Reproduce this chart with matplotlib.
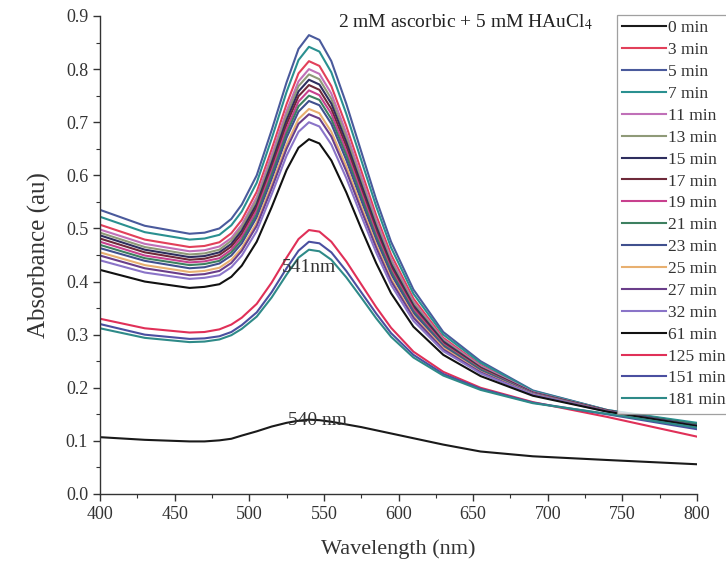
#!/usr/bin/env python3
"""
UV-Vis absorbance spectra of gold nanoparticle growth
(2 mM ascorbic acid + 5 mM HAuCl4) recorded at different reaction times.
"""
import matplotlib
matplotlib.use("Agg")
import matplotlib.pyplot as plt
from matplotlib.ticker import MultipleLocator

# wavelength grid (nm) shared by all spectra
wavelength = [400, 430, 460, 470, 480, 488, 495, 505, 515, 525, 533, 540, 547, 555,
              565, 575, 585, 595, 610, 630, 655, 690, 740, 800]

times = ["0 min", "3 min", "5 min", "7 min", "11 min", "13 min", "15 min",
         "17 min", "19 min", "21 min", "23 min", "25 min", "27 min", "32 min",
         "61 min", "125 min", "151 min", "181 min"]

abs_0 = [0.107, 0.102, 0.099, 0.099, 0.101, 0.104, 0.110, 0.118, 0.127, 0.134, 0.138, 0.140,
         0.139, 0.136, 0.131, 0.126, 0.120, 0.114, 0.105, 0.093, 0.080, 0.071, 0.064, 0.056]
abs_3 = [0.507, 0.479, 0.465, 0.467, 0.474, 0.491, 0.516, 0.569, 0.649, 0.734, 0.792, 0.815,
         0.806, 0.768, 0.693, 0.609, 0.525, 0.451, 0.368, 0.294, 0.243, 0.193, 0.157, 0.124]
abs_5 = [0.535, 0.505, 0.490, 0.492, 0.500, 0.518, 0.545, 0.600, 0.685, 0.775, 0.838, 0.864,
         0.855, 0.815, 0.735, 0.645, 0.555, 0.475, 0.385, 0.305, 0.250, 0.195, 0.158, 0.132]
abs_7 = [0.522, 0.493, 0.479, 0.481, 0.488, 0.506, 0.532, 0.586, 0.669, 0.757, 0.817, 0.842,
         0.833, 0.794, 0.716, 0.629, 0.542, 0.464, 0.377, 0.300, 0.247, 0.194, 0.158, 0.134]
abs_11 = [0.498, 0.471, 0.457, 0.459, 0.466, 0.482, 0.507, 0.559, 0.638, 0.721, 0.777, 0.800,
          0.791, 0.754, 0.680, 0.598, 0.516, 0.443, 0.362, 0.291, 0.241, 0.192, 0.157, 0.128]
abs_13 = [0.492, 0.465, 0.451, 0.453, 0.460, 0.477, 0.502, 0.553, 0.630, 0.713, 0.768, 0.790,
          0.781, 0.744, 0.672, 0.590, 0.510, 0.438, 0.359, 0.289, 0.239, 0.191, 0.157, 0.127]
abs_15 = [0.487, 0.460, 0.446, 0.448, 0.455, 0.471, 0.496, 0.546, 0.623, 0.704, 0.758, 0.780,
          0.771, 0.735, 0.663, 0.583, 0.504, 0.433, 0.355, 0.287, 0.238, 0.191, 0.157, 0.130]
abs_17 = [0.481, 0.455, 0.441, 0.443, 0.450, 0.466, 0.490, 0.540, 0.615, 0.696, 0.749, 0.770,
          0.761, 0.725, 0.655, 0.575, 0.497, 0.428, 0.351, 0.284, 0.237, 0.190, 0.157, 0.126]
abs_19 = [0.475, 0.449, 0.436, 0.438, 0.444, 0.460, 0.484, 0.534, 0.608, 0.687, 0.739, 0.760,
          0.751, 0.716, 0.646, 0.568, 0.491, 0.423, 0.348, 0.282, 0.235, 0.190, 0.156, 0.124]
abs_21 = [0.469, 0.444, 0.431, 0.433, 0.439, 0.455, 0.478, 0.527, 0.601, 0.679, 0.730, 0.750,
          0.742, 0.706, 0.638, 0.561, 0.485, 0.419, 0.344, 0.280, 0.234, 0.189, 0.156, 0.131]
abs_23 = [0.463, 0.439, 0.425, 0.427, 0.434, 0.449, 0.472, 0.521, 0.593, 0.671, 0.720, 0.740,
          0.732, 0.697, 0.629, 0.553, 0.479, 0.414, 0.341, 0.278, 0.232, 0.189, 0.156, 0.129]
abs_25 = [0.455, 0.431, 0.418, 0.420, 0.426, 0.441, 0.463, 0.511, 0.582, 0.658, 0.706, 0.725,
          0.717, 0.682, 0.617, 0.542, 0.470, 0.406, 0.335, 0.275, 0.230, 0.188, 0.156, 0.125]
abs_27 = [0.449, 0.425, 0.412, 0.414, 0.420, 0.435, 0.458, 0.505, 0.575, 0.650, 0.697, 0.715,
          0.707, 0.673, 0.608, 0.535, 0.464, 0.401, 0.332, 0.272, 0.229, 0.187, 0.156, 0.128]
abs_32 = [0.440, 0.417, 0.405, 0.407, 0.412, 0.427, 0.449, 0.495, 0.564, 0.637, 0.682, 0.700,
          0.692, 0.658, 0.595, 0.524, 0.455, 0.394, 0.326, 0.269, 0.227, 0.187, 0.155, 0.127]
abs_61 = [0.422, 0.400, 0.388, 0.390, 0.395, 0.409, 0.430, 0.475, 0.540, 0.610, 0.652, 0.668,
          0.660, 0.628, 0.568, 0.500, 0.435, 0.378, 0.315, 0.262, 0.222, 0.185, 0.155, 0.128]
abs_125 = [0.330, 0.312, 0.304, 0.305, 0.310, 0.319, 0.332, 0.358, 0.398, 0.445, 0.480, 0.497,
           0.494, 0.475, 0.438, 0.395, 0.352, 0.313, 0.268, 0.230, 0.200, 0.173, 0.145, 0.108]
abs_151 = [0.320, 0.300, 0.292, 0.293, 0.297, 0.305, 0.318, 0.342, 0.380, 0.425, 0.458, 0.475,
           0.472, 0.455, 0.420, 0.380, 0.340, 0.303, 0.262, 0.226, 0.198, 0.172, 0.150, 0.122]
abs_181 = [0.312, 0.294, 0.286, 0.287, 0.291, 0.299, 0.311, 0.334, 0.370, 0.413, 0.445, 0.460,
           0.457, 0.441, 0.408, 0.370, 0.331, 0.296, 0.257, 0.223, 0.196, 0.171, 0.151, 0.125]

spectra = [abs_0, abs_3, abs_5, abs_7, abs_11, abs_13, abs_15, abs_17, abs_19,
           abs_21, abs_23, abs_25, abs_27, abs_32, abs_61, abs_125, abs_151, abs_181]

colors = ["#1a1a1a", "#e2405a", "#4a5a9c", "#2a9090", "#c070b8", "#8f9a78",
          "#2e2e5e", "#6e2a3a", "#c8408e", "#3d8060", "#40508e", "#e8b070",
          "#6a3e8a", "#8a74c8", "#111111", "#e03058", "#4a4fa0", "#2e8a88"]

TEXT_COLOR = "#333333"


def main():
    plt.rcParams["font.family"] = ["Liberation Serif", "DejaVu Serif"]
    plt.rcParams["mathtext.fontset"] = "stix"

    fig = plt.figure(figsize=(7.26, 5.70), dpi=100)
    ax = fig.add_axes([100 / 726, 1 - 494 / 570, 597 / 726, 478 / 570])

    for label, vals, c in zip(times, spectra, colors):
        ax.plot(wavelength, vals, color=c, linewidth=1.5, label=label,
                solid_joinstyle="round")

    ax.set_xlim(400, 800)
    ax.set_ylim(0, 0.9)
    ax.xaxis.set_major_locator(MultipleLocator(50))
    ax.xaxis.set_minor_locator(MultipleLocator(25))
    ax.yaxis.set_major_locator(MultipleLocator(0.1))
    ax.yaxis.set_minor_locator(MultipleLocator(0.05))
    ax.yaxis.set_major_formatter(plt.FuncFormatter(lambda v, p: f"{v:.1f}"))

    for side in ("top", "right"):
        ax.spines[side].set_visible(False)
    for side in ("left", "bottom"):
        ax.spines[side].set_color(TEXT_COLOR)
        ax.spines[side].set_linewidth(1.0)
    ax.tick_params(which="major", direction="out", length=5, width=1.0,
                   labelsize=13, colors=TEXT_COLOR, labelcolor=TEXT_COLOR)
    ax.tick_params(which="minor", direction="out", length=3, width=0.8, colors=TEXT_COLOR)

    ax.set_xlabel("Wavelength (nm)", fontsize=16, color=TEXT_COLOR, labelpad=12)
    ax.set_ylabel("Absorbance (au)", fontsize=18, color=TEXT_COLOR, labelpad=11)

    ax.text(526, 0.13, "540 nm", fontsize=14, color=TEXT_COLOR, va="baseline")
    ax.text(522, 0.418, "541nm", fontsize=14, color=TEXT_COLOR, va="baseline")
    fig.text(338 / 726, 1 - 27 / 570, "2 mM ascorbic + 5 mM HAuCl$_4$",
             fontsize=14, color="#222222", va="baseline")

    leg = ax.legend(loc="upper left", bbox_to_anchor=(617 / 726, 1 - 15 / 570),
                    bbox_transform=fig.transFigure, fontsize=12.5, frameon=True,
                    fancybox=False, borderpad=0.3, labelspacing=0.33,
                    handlelength=2.5, handletextpad=0.15, borderaxespad=0)
    leg.get_frame().set_edgecolor("#888888")
    leg.get_frame().set_linewidth(0.9)
    for t in leg.get_texts():
        t.set_color(TEXT_COLOR)

    fig.savefig("out.png", dpi=100)
    plt.close(fig)


if __name__ == "__main__":
    main()
